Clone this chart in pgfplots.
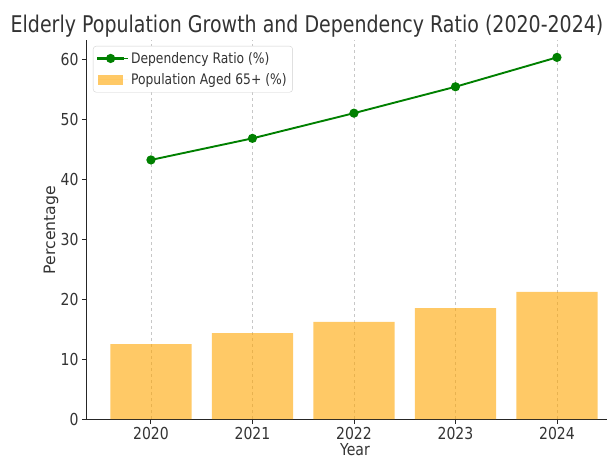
\documentclass[border=0pt]{standalone}
\usepackage{fontspec}
\setmainfont{DejaVu Sans}[FakeStretch=0.85]
\newfontfamily\plainfont{DejaVu Sans}
\newfontfamily\titlefont{DejaVu Sans}[FakeStretch=0.826]
\usepackage{pgfplots}
\pgfplotsset{compat=1.18}

\definecolor{barorange}{RGB}{255,165,0}
\definecolor{linegreen}{RGB}{0,128,0}
\definecolor{textgray}{RGB}{51,51,51}

\pgfplotsset{
  deplegend/.style={
    legend image code/.code={
      \fill[linegreen, sharp corners] (0pt,-0.95pt) rectangle (25pt,0.95pt);
      \fill[linegreen] (12.5pt,0pt) circle (3.6pt);
      \path (0pt,0pt) -- (30pt,0pt);
    }},
  poplegend/.style={
    legend image code/.code={
      \fill[##1, sharp corners] (0pt,-5pt) rectangle (25pt,5pt);
      \path (0pt,0pt) -- (30pt,0pt);
    }},
}

% Share of the population aged 65+ (bars)
\pgfplotstableread{
x  pop
0  12.5
1  14.3
2  16.2
3  18.5
4  21.2
}\poptable

% Old-age dependency ratio (line)
\pgfplotstableread{
x  dep
0  43.2
1  46.8
2  51.0
3  55.4
4  60.3
}\deptable

\begin{document}
\begin{tikzpicture}
\useasboundingbox (-87pt,-39pt) rectangle (521pt,419pt);
\begin{axis}[
  at={(0pt,0pt)}, anchor=south west,
  scale only axis, width=520pt, height=379pt,
  xmin=-0.63, xmax=4.493, ymin=0, ymax=63.2,
  axis lines*=left,
  axis line style={line width=1pt, black!85},
  tick style={line width=0.9pt, black!85},
  tick align=outside, major tick length=5pt,
  xtick={0,1,2,3,4},
  xticklabels={2020,2021,2022,2023,2024},
  ytick={0,10,20,30,40,50,60},
  /pgf/number format/assume math mode=true,
  ticklabel style={font=\fontsize{16.5}{18}\selectfont, text=textgray},
  xmajorgrids,
  grid style={dashed, black!22, line width=0.6pt},
  legend cell align=left,
  legend style={
    at={(rel axis cs:0,1)}, anchor=north west,
    xshift=6pt, yshift=-6pt,
    draw=black!18, rounded corners=3pt, fill=white,
    font=\fontsize{14.5}{16}\selectfont, text=textgray,
    inner xsep=4pt, inner ysep=4pt,
    row sep=5pt,
  },
]
\addplot[ybar, bar width=0.8, draw=none, fill=barorange, fill opacity=0.6,
  forget plot] table[x=x, y=pop] {\poptable};
\addplot[linegreen, line width=1.9pt, mark=*, mark size=3.6pt,
  mark options={solid, fill=linegreen}, deplegend]
  table[x=x, y=dep] {\deptable};
\addlegendentry{Dependency Ratio (\%)}
\addlegendimage{draw=none, fill=barorange, fill opacity=0.6, poplegend}
\addlegendentry{Population Aged 65+ (\%)}
\end{axis}
\node[font=\titlefont\fontsize{23}{26}\selectfont, text=textgray, anchor=base]
  at (220pt,386.5pt) {Elderly Population Growth and Dependency Ratio (2020-2024)};
\node[font=\plainfont\fontsize{15.7}{18}\selectfont, text=textgray, rotate=90]
  at (-36pt,189pt) {Percentage};
\node[font=\fontsize{16.5}{18}\selectfont, text=textgray, anchor=base]
  at (268pt,-36pt) {Year};
\end{tikzpicture}
\end{document}
